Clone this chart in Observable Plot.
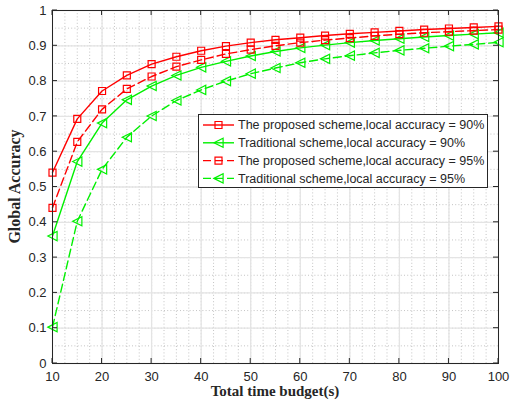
<!DOCTYPE html>
<html><head><meta charset="utf-8">
<script src="https://cdn.jsdelivr.net/npm/d3@7"></script>
<script src="https://cdn.jsdelivr.net/npm/@observablehq/plot@0.6"></script>
<style>body{margin:0;background:#fff}</style>
</head><body><div id="chart"></div>
<script>
const timeBudget = [10,15,20,25,30,35,40,45,50,55,60,65,70,75,80,85,90,95,100];
const proposed90 = [0.541,0.693,0.772,0.816,0.848,0.869,0.886,0.899,0.909,0.917,0.923,0.929,0.934,0.938,0.942,0.946,0.949,0.952,0.955];
const traditional90 = [0.361,0.572,0.681,0.747,0.786,0.816,0.839,0.856,0.871,0.884,0.894,0.902,0.909,0.915,0.920,0.925,0.929,0.933,0.937];
const proposed95 = [0.441,0.628,0.720,0.778,0.813,0.841,0.860,0.877,0.889,0.900,0.909,0.916,0.922,0.928,0.933,0.937,0.940,0.943,0.946];
const traditional95 = [0.103,0.403,0.550,0.641,0.701,0.745,0.775,0.800,0.821,0.837,0.852,0.863,0.872,0.880,0.887,0.893,0.899,0.904,0.910];
const legendLabels = [
  "The proposed scheme,local accuracy = 90%",
  "Traditional scheme,local accuracy = 90%",
  "The proposed scheme,local accuracy = 95%",
  "Traditional scheme,local accuracy = 95%"
];
const xTicks = [10,20,30,40,50,60,70,80,90,100];
const yTicks = [0,0.1,0.2,0.3,0.4,0.5,0.6,0.7,0.8,0.9,1];
const xLabel = "Total time budget(s)";
const yLabel = "Global Accuracy";

const squareSym = {draw(ctx, size){ const s = Math.sqrt(size/Math.PI); ctx.rect(-s,-s,2*s,2*s); }};
const triLeftSym = {draw(ctx, size){ const s = Math.sqrt(size/Math.PI); ctx.moveTo(-s,0); ctx.lineTo(s,-s); ctx.lineTo(s,s); ctx.closePath(); }};

const seriesValues = [proposed90, traditional90, proposed95, traditional95];
const seriesStyle = [
  {color:"#ff0000", dash:null, symbol:squareSym, r:3.5},
  {color:"#00f000", dash:null, symbol:triLeftSym, r:4.6},
  {color:"#ff0000", dash:"8,4", symbol:squareSym, r:3.5},
  {color:"#00f000", dash:"8,4", symbol:triLeftSym, r:4.6}
];

const minorX = d3.range(10, 100.001, 2.5);
const minorY = d3.range(0, 1.0001, 0.05);

const marks = [
  Plot.ruleX(minorX, {stroke:"#b5b5b5", strokeDasharray:"1,2.2", strokeWidth:0.8}),
  Plot.ruleY(minorY, {stroke:"#b5b5b5", strokeDasharray:"1,2.2", strokeWidth:0.8}),
  Plot.ruleX(xTicks, {stroke:"#e4e4e4", strokeWidth:1.3}),
  Plot.ruleY(yTicks, {stroke:"#e4e4e4", strokeWidth:1.3})
];
seriesValues.forEach((vals, k) => {
  const st = seriesStyle[k];
  const rows = timeBudget.map((x, i) => ({x, y: vals[i]}));
  marks.push(Plot.line(rows, {x:"x", y:"y", stroke: st.color, strokeWidth:1.4, strokeDasharray: st.dash}));
  marks.push(Plot.dot(rows, {x:"x", y:"y", symbol: st.symbol, r: st.r, stroke: st.color, fill:"none", strokeWidth:1.2}));
});
marks.push(Plot.frame({stroke:"#262626", strokeWidth:1}));
marks.push(Plot.axisX({ticks: xTicks, tickSize:0, tickPadding:8, tickFormat: d => String(d), label:null, fill:"#262626"}));
marks.push(Plot.axisY({ticks: yTicks, tickSize:0, tickPadding:6, tickFormat: d => String(+d.toFixed(1)), label:null, fill:"#262626"}));

const chart = Plot.plot({
  width: 510, height: 409,
  marginLeft: 52, marginRight: 12, marginTop: 10, marginBottom: 46,
  x: {domain:[10,100], label:null},
  y: {domain:[0,1], label:null},
  style: {fontFamily:"'Liberation Sans', Arial, sans-serif", fontSize:"13px", color:"#262626", background:"#fff"},
  marks
});
document.getElementById("chart").append(chart);

const svg = d3.select(chart);
const sx = v => chart.scale("x").apply(v);
const sy = v => chart.scale("y").apply(v);
const x0 = sx(10), x1 = sx(100), y0 = sy(0), y1 = sy(1);
const tg = svg.append("g").attr("stroke","#262626").attr("stroke-width",1);
xTicks.forEach(v => {
  tg.append("line").attr("x1",sx(v)).attr("x2",sx(v)).attr("y1",y0).attr("y2",y0-5);
  tg.append("line").attr("x1",sx(v)).attr("x2",sx(v)).attr("y1",y1).attr("y2",y1+5);
});
yTicks.forEach(v => {
  tg.append("line").attr("x1",x0).attr("x2",x0+5).attr("y1",sy(v)).attr("y2",sy(v));
  tg.append("line").attr("x1",x1).attr("x2",x1-5).attr("y1",sy(v)).attr("y2",sy(v));
});

svg.append("text").text(xLabel)
  .attr("x",(x0+x1)/2).attr("y",396).attr("text-anchor","middle")
  .attr("font-family","'Liberation Serif','Times New Roman',serif").attr("font-weight","bold")
  .attr("font-size",15).attr("fill","#262626");
svg.append("text").text(yLabel)
  .attr("transform",`translate(20,${(y0+y1)/2}) rotate(-90)`).attr("text-anchor","middle")
  .attr("font-family","'Liberation Serif','Times New Roman',serif").attr("font-weight","bold")
  .attr("font-size",16).attr("fill","#262626");

// legend
const lg = svg.append("g");
lg.append("rect").attr("x",198.5).attr("y",114.5).attr("width",289).attr("height",73)
  .attr("fill","#fff").attr("stroke","#262626").attr("stroke-width",1);
legendLabels.forEach((lab, k) => {
  const st = seriesStyle[k];
  const cy = 125 + k*17.8;
  lg.append("line").attr("x1",203).attr("x2",234).attr("y1",cy).attr("y2",cy)
    .attr("stroke",st.color).attr("stroke-width",1.4).attr("stroke-dasharray",st.dash);
  const p = d3.path();
  const s = st.r;
  st.symbol.draw(p, Math.PI*s*s);
  lg.append("path").attr("d",p.toString()).attr("transform",`translate(218.5,${cy})`)
    .attr("fill","none").attr("stroke",st.color).attr("stroke-width",1.2);
  lg.append("text").text(lab).attr("x",238).attr("y",cy).attr("dy","0.35em").attr("text-anchor","start")
    .attr("font-family","'Liberation Sans', Arial, sans-serif").attr("font-size",12.5).attr("fill","#262626");
});
</script></body></html>
